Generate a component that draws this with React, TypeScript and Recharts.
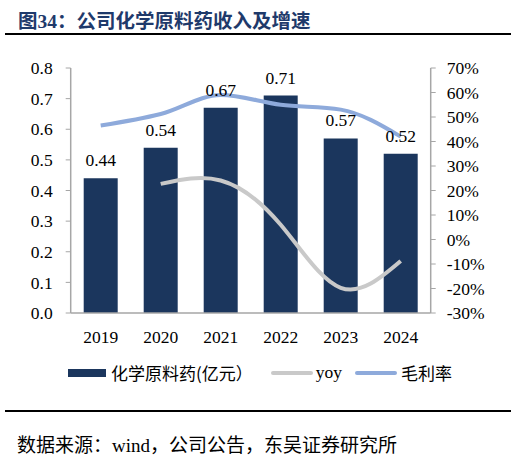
import React from 'react';
import { ComposedChart, Bar, Line, XAxis, YAxis, LabelList } from 'recharts';

const years = ['2019', '2020', '2021', '2022', '2023', '2024'];
const revenue = [0.44, 0.54, 0.67, 0.71, 0.57, 0.52]; // 亿元
const yoy = [null, 22.7, 24.1, 6.0, -19.7, -8.8]; // %
const grossMargin = [46.5, 51.2, 59.0, 55.0, 53.0, 42.0]; // %

const leftTicks = [0, 0.1, 0.2, 0.3, 0.4, 0.5, 0.6, 0.7, 0.8];
const rightTicks = [-30, -20, -10, 0, 10, 20, 30, 40, 50, 60, 70];

const data = years.map((year, i) => ({
  year,
  revenue: revenue[i],
  yoy: yoy[i],
  margin: grossMargin[i],
}));

const NAVY = '#1B365D';
const GREY = '#C9C9C9';
const BLUE = '#8EAADB';
const AXIS = '#A6A6A6';
const SERIF = '"Liberation Serif", "Times New Roman", serif';
const CJK = '"Noto Sans CJK SC", sans-serif';

const tickStyle = { fontFamily: SERIF, fontSize: 17.5, fill: '#000' };

const App: React.FC = () => {
  return (
    <div style={{ position: 'absolute', left: 0, top: 0, width: 517, height: 459, background: '#fff' }}>
      <div
        style={{
          position: 'absolute',
          left: 18,
          top: 5,
          fontFamily: CJK,
          fontWeight: 700,
          fontSize: 19.5,
          color: '#1F3A6B',
          whiteSpace: 'nowrap',
        }}
      >
        图<span style={{ fontFamily: SERIF }}>34</span>：公司化学原料药收入及增速
      </div>
      <div style={{ position: 'absolute', left: 5, top: 33, width: 506, height: 2, background: '#000' }} />

      <ComposedChart
        width={517}
        height={459}
        data={data}
        margin={{ top: 68, left: 10.7, right: 26.3, bottom: 116 }}
        style={{ position: 'absolute', left: 0, top: 0 }}
      >
        <XAxis
          dataKey="year"
          tick={tickStyle}
          tickLine={false}
          axisLine={{ stroke: AXIS, strokeWidth: 1.5 }}
          tickMargin={12}
          height={30}
        />
        <YAxis
          yAxisId="left"
          domain={[0, 0.8]}
          ticks={leftTicks}
          tickFormatter={(v: number) => v.toFixed(1)}
          tick={tickStyle}
          tickSize={5}
          tickMargin={13}
          tickLine={{ stroke: AXIS }}
          axisLine={{ stroke: AXIS, strokeWidth: 1.5 }}
          width={60}
          interval={0}
        />
        <YAxis
          yAxisId="right"
          orientation="right"
          domain={[-30, 70]}
          ticks={rightTicks}
          tickFormatter={(v: number) => `${v}%`}
          tick={{ ...tickStyle, textAnchor: 'start' }}
          tickSize={5}
          tickMargin={11}
          tickLine={{ stroke: AXIS }}
          axisLine={{ stroke: AXIS, strokeWidth: 1.5 }}
          width={60}
          interval={0}
        />
        <Bar yAxisId="left" dataKey="revenue" fill={NAVY} barSize={34} isAnimationActive={false}>
          <LabelList
            dataKey="revenue"
            position="top"
            offset={12}
            formatter={(v: number) => v.toFixed(2)}
            style={{ fontFamily: SERIF, fontSize: 17.5, fill: '#000' }}
          />
        </Bar>
        <Line
          yAxisId="right"
          dataKey="yoy"
          type="natural"
          stroke={GREY}
          strokeWidth={4}
          dot={false}
          connectNulls={false}
          isAnimationActive={false}
        />
        <Line
          yAxisId="right"
          dataKey="margin"
          type="monotone"
          stroke={BLUE}
          strokeWidth={4}
          dot={false}
          isAnimationActive={false}
        />
      </ComposedChart>

      <div
        style={{
          position: 'absolute',
          left: 68,
          top: 360,
          display: 'flex',
          alignItems: 'center',
          whiteSpace: 'nowrap',
          fontSize: 17,
          color: '#000',
        }}
      >
        <span style={{ display: 'inline-block', width: 38, height: 8, background: NAVY, marginRight: 5 }} />
        <span style={{ fontFamily: CJK }}>化学原料药(亿元）</span>
        <span style={{ display: 'inline-block', width: 42, height: 4, background: GREY, marginLeft: 18, marginRight: 3, borderRadius: 2 }} />
        <span style={{ fontFamily: SERIF, fontSize: 17.5 }}>yoy</span>
        <span style={{ display: 'inline-block', width: 42, height: 4, background: BLUE, marginLeft: 13, marginRight: 4, borderRadius: 2 }} />
        <span style={{ fontFamily: CJK }}>毛利率</span>
      </div>

      <div style={{ position: 'absolute', left: 5, top: 410, width: 506, height: 2, background: '#000' }} />
      <div
        style={{
          position: 'absolute',
          left: 17,
          top: 430,
          fontFamily: CJK,
          fontSize: 19,
          color: '#000',
          whiteSpace: 'nowrap',
        }}
      >
        数据来源：<span style={{ fontFamily: SERIF, fontSize: 19 }}>wind</span>，公司公告，东吴证券研究所
      </div>
    </div>
  );
};

export default App;
